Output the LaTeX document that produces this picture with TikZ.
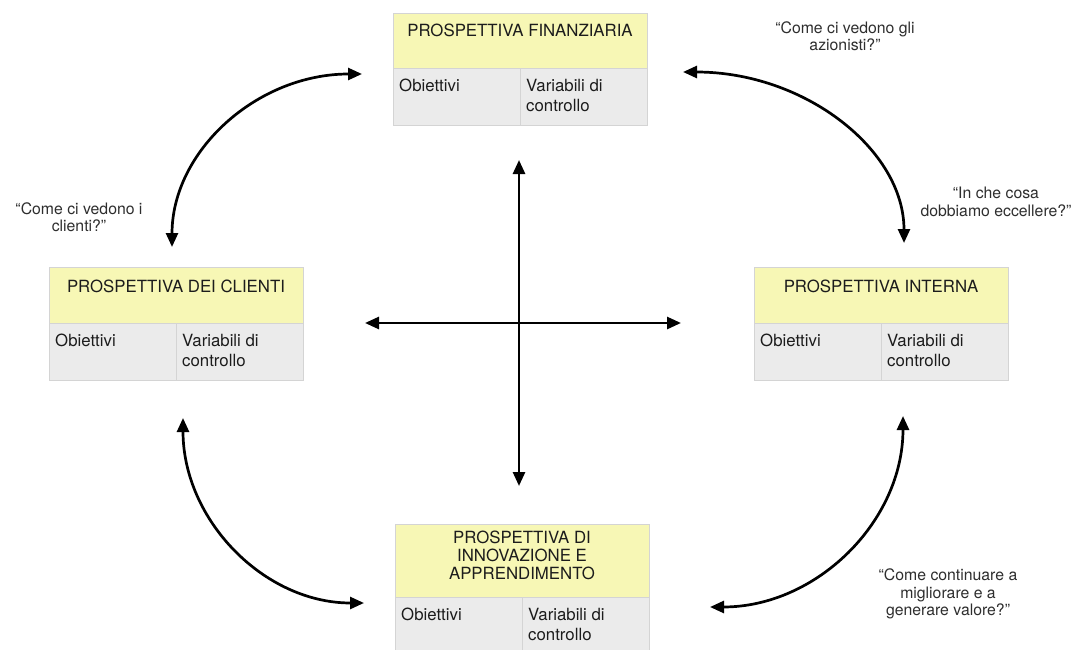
\documentclass[tikz,border=0pt]{standalone}
\usepackage{fontspec}
\setmainfont{TeX Gyre Heros}
\usetikzlibrary{arrows.meta}

\definecolor{titlefill}{HTML}{F7F7B5}
\definecolor{cellfill}{HTML}{EBEBEB}
\definecolor{cellline}{HTML}{D4D4D4}
\definecolor{boxtext}{HTML}{1C1C1C}
\definecolor{quotetext}{HTML}{2E2E2E}

\tikzset{
  titlecell/.style={draw=cellline, fill=titlefill, line width=0.6pt,
    minimum width=254pt, anchor=north west, inner sep=0pt, outer sep=0pt},
  halfcell/.style={draw=cellline, fill=cellfill, line width=0.6pt,
    minimum width=127pt, minimum height=57pt, anchor=north west,
    inner sep=0pt, outer sep=0pt},
  titletext/.style={anchor=north, align=center, inner sep=0pt,
    font=\fontsize{16.8}{17.8}\selectfont, text=boxtext},
  celltext/.style={anchor=north west, align=left, inner sep=0pt,
    font=\fontsize{16.8}{20}\selectfont, text=boxtext},
  quote/.style={align=center, inner sep=0pt,
    font=\fontsize{15.8}{17.5}\selectfont, text=quotetext},
  link/.style={line width=2.7pt, line cap=round,
    {Triangle[length=14pt,width=12pt]}-{Triangle[length=14pt,width=12pt]}},
}

% perspective box: name, x, y, title height, title offset, title
\newcommand\perspbox[6]{%
  \node[titlecell, minimum height=#4] (#1-t) at (#2,#3) {};
  \node[titletext] (#1-tt) at ([yshift=-#5]#1-t.north) {#6};
  \node[halfcell] (#1-o) at (#1-t.south west) {};
  \node[halfcell] (#1-v) at (#1-o.north east) {};
  \node[celltext] (#1-ot) at ([xshift=6pt,yshift=-11pt]#1-o.north west) {Obiettivi};
  \node[celltext] (#1-vt) at ([xshift=6pt,yshift=-11pt]#1-v.north west) {Variabili di\\controllo};
}

\begin{document}
\begin{tikzpicture}[x=1pt,y=-1pt]
\useasboundingbox[fill=white] (0,0) rectangle (1076,650);

% the four perspectives
\perspbox{fin}{393}{13}{55pt}{11pt}{PROSPETTIVA FINANZIARIA}
\perspbox{cli}{49}{267}{56pt}{13pt}{PROSPETTIVA DEI CLIENTI}
\perspbox{int}{754}{267}{56pt}{13pt}{PROSPETTIVA INTERNA}
\perspbox{inn}{395}{524}{73pt}{7pt}{PROSPETTIVA DI\\INNOVAZIONE E\\APPRENDIMENTO}

% guiding questions
\node[quote] (q-az) at (845,36) {“Come ci vedono gli\\azionisti?”};
\node[quote] (q-cl) at (79,217) {“Come ci vedono i\\clienti?”};
\node[quote] (q-ec) at (996,202) {“In che cosa\\dobbiamo eccellere?”};
\node[quote] (q-mi) at (948,594) {“Come continuare a\\migliorare e a\\generare valore?”};

% central cross
\coordinate (c-n) at (519,160);
\coordinate (c-s) at (519,486);
\coordinate (c-w) at (365,323);
\coordinate (c-e) at (681,323);
\draw[link] (c-n) -- (c-s);
\draw[link] (c-w) -- (c-e);

% curved links between neighbouring perspectives
\coordinate (tl-a) at (362,74);
\coordinate (tl-b) at (172,247);
\draw[link] (tl-b) .. controls (172,151) and (257,74) .. (tl-a);

\coordinate (tr-a) at (683,72);
\coordinate (tr-b) at (904,243);
\draw[link] (tr-a) .. controls (805,72) and (904,150) .. (tr-b);

\coordinate (bl-a) at (183,418);
\coordinate (bl-b) at (364,603);
\draw[link] (bl-a) .. controls (183,520) and (264,603) .. (bl-b);

\coordinate (br-a) at (903,416);
\coordinate (br-b) at (710,607);
\draw[link] (br-a) .. controls (903,522) and (816,607) .. (br-b);
\end{tikzpicture}
\end{document}
